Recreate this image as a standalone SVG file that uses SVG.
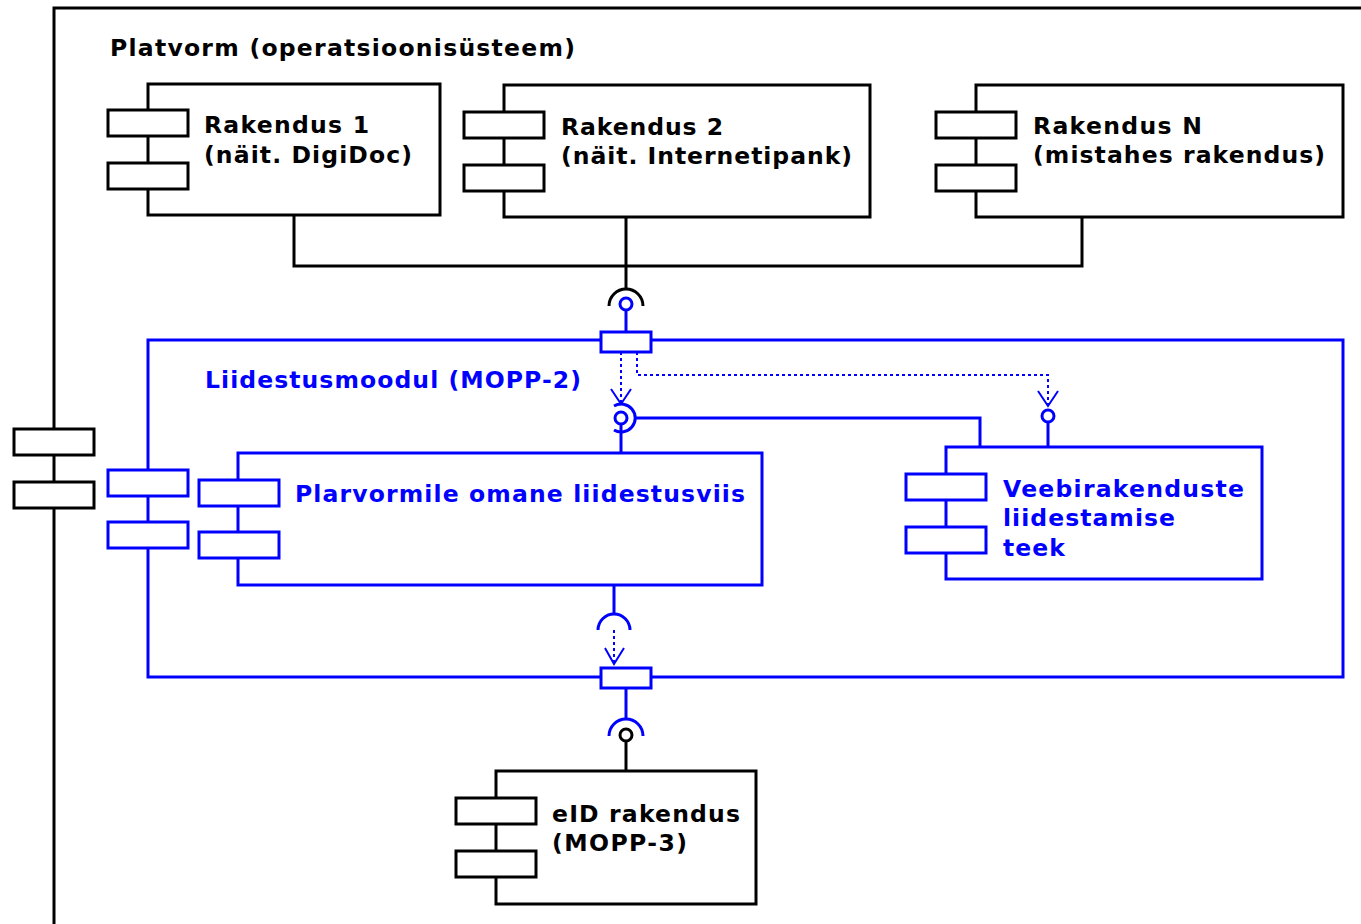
<svg xmlns="http://www.w3.org/2000/svg" width="1361" height="924" viewBox="0 0 1361 924">
  <style>
    .k { fill: #fff; stroke: #000; stroke-width: 3; }
    .b { fill: #fff; stroke: #00f; stroke-width: 3; }
    .kl { fill: none; stroke: #000; stroke-width: 3; }
    .bl { fill: none; stroke: #00f; stroke-width: 3; }
    .dot { fill: none; stroke: #00f; stroke-width: 2; stroke-dasharray: 3 3; }
    .arr { fill: none; stroke: #00f; stroke-width: 2; }
    text { font-family: "DejaVu Sans", "Verdana", sans-serif; font-weight: bold; font-size: 23.5px; }
    .tk { fill: #000; }
    .tb { fill: #00f; }
  </style>

  <rect width="1361" height="924" fill="#fff"/>

  <!-- Platform frame -->
  <g id="platform">
    <path class="kl" d="M1363,8 H54 V926"/>
    <rect class="k" x="14" y="429" width="80" height="26"/>
    <rect class="k" x="14" y="482" width="80" height="26"/>
    <text class="tk" x="110" y="56" textLength="465" lengthAdjust="spacing">Platvorm (operatsioonisüsteem)</text>
  </g>

  <!-- Connectors -->
  <g id="connectors">
    <!-- applications joined to the interface -->
    <path class="kl" d="M294,215 V266 H1082 V217"/>
    <path class="kl" d="M626,217 V288"/>
    <path class="kl" d="M609,306 A17,17 0 0 1 643,306"/>
    <circle class="b" cx="626" cy="304" r="6"/>
    <path class="bl" d="M626,310 V332"/>

    <!-- delegation from the top port -->
    <path class="dot" d="M621,352 V403"/>
    <path class="arr" d="M611,389 L621,404 L631,389"/>
    <path class="dot" d="M637,352 V375 H1048 V405"/>
    <path class="arr" d="M1038,391 L1048,406 L1058,391"/>

    <!-- inner interface between the two parts -->
    <path class="bl" d="M614,406 A14,14 0 1 1 614,430"/>
    <circle class="b" cx="621" cy="418" r="6"/>
    <path class="bl" d="M621,424 V453"/>
    <path class="bl" d="M635,418 H980 V447"/>
    <circle class="b" cx="1048" cy="416" r="6"/>
    <path class="bl" d="M1048,422 V447"/>

    <!-- required interface down to the bottom port -->
    <path class="bl" d="M614,585 V613"/>
    <path class="bl" d="M598,630 A16,16 0 0 1 630,630"/>
    <path class="dot" d="M614,630 V664"/>
    <path class="arr" d="M605,648 L614,664 L624,648"/>

    <!-- bottom port to eID application -->
    <path class="bl" d="M626,688 V718"/>
    <path class="bl" d="M609,736 A17,17 0 0 1 643,736"/>
    <circle class="k" cx="626" cy="735" r="6"/>
    <path class="kl" d="M626,741 V771"/>
  </g>

  <!-- Application 1 -->
  <g id="app1">
    <rect class="k" x="148" y="84" width="292" height="131"/>
    <rect class="k" x="108" y="110" width="80" height="26"/>
    <rect class="k" x="108" y="163" width="80" height="26"/>
    <text class="tk" x="204" y="133" textLength="165" lengthAdjust="spacing">Rakendus 1</text>
    <text class="tk" x="204" y="163" textLength="208" lengthAdjust="spacing">(näit. DigiDoc)</text>
  </g>

  <!-- Application 2 -->
  <g id="app2">
    <rect class="k" x="504" y="85" width="366" height="132"/>
    <rect class="k" x="464" y="112" width="80" height="26"/>
    <rect class="k" x="464" y="165" width="80" height="26"/>
    <text class="tk" x="561" y="135" textLength="162" lengthAdjust="spacing">Rakendus 2</text>
    <text class="tk" x="561" y="164" textLength="291" lengthAdjust="spacing">(näit. Internetipank)</text>
  </g>

  <!-- Application N -->
  <g id="appN">
    <rect class="k" x="976" y="85" width="367" height="132"/>
    <rect class="k" x="936" y="112" width="80" height="26"/>
    <rect class="k" x="936" y="165" width="80" height="26"/>
    <text class="tk" x="1033" y="134" textLength="169" lengthAdjust="spacing">Rakendus N</text>
    <text class="tk" x="1033" y="163" textLength="292" lengthAdjust="spacing">(mistahes rakendus)</text>
  </g>

  <!-- Interface module -->
  <g id="module">
    <rect class="bl" x="148" y="340" width="1195" height="337"/>
    <rect class="b" x="108" y="470" width="80" height="26"/>
    <rect class="b" x="108" y="522" width="80" height="26"/>
    <rect class="b" x="601" y="332" width="50" height="20"/>
    <rect class="b" x="601" y="668" width="50" height="20"/>
    <text class="tb" x="205" y="388" textLength="376" lengthAdjust="spacing">Liidestusmoodul (MOPP-2)</text>
  </g>

  <!-- Platform-specific interfacing part -->
  <g id="native">
    <rect class="b" x="238" y="453" width="524" height="132"/>
    <rect class="b" x="199" y="480" width="80" height="26"/>
    <rect class="b" x="199" y="532" width="80" height="26"/>
    <text class="tb" x="295" y="502" textLength="450" lengthAdjust="spacing">Plarvormile omane liidestusviis</text>
  </g>

  <!-- Web application library -->
  <g id="weblib">
    <rect class="b" x="946" y="447" width="316" height="132"/>
    <rect class="b" x="906" y="474" width="80" height="26"/>
    <rect class="b" x="906" y="527" width="80" height="26"/>
    <text class="tb" x="1003" y="497" textLength="241" lengthAdjust="spacing">Veebirakenduste</text>
    <text class="tb" x="1003" y="526" textLength="172" lengthAdjust="spacing">liidestamise</text>
    <text class="tb" x="1003" y="556" textLength="62" lengthAdjust="spacing">teek</text>
  </g>

  <!-- eID application -->
  <g id="eid">
    <rect class="k" x="496" y="771" width="260" height="133"/>
    <rect class="k" x="456" y="798" width="80" height="26"/>
    <rect class="k" x="456" y="851" width="80" height="26"/>
    <text class="tk" x="552" y="822" textLength="188" lengthAdjust="spacing">eID rakendus</text>
    <text class="tk" x="552" y="851" textLength="135" lengthAdjust="spacing">(MOPP-3)</text>
  </g>
</svg>
